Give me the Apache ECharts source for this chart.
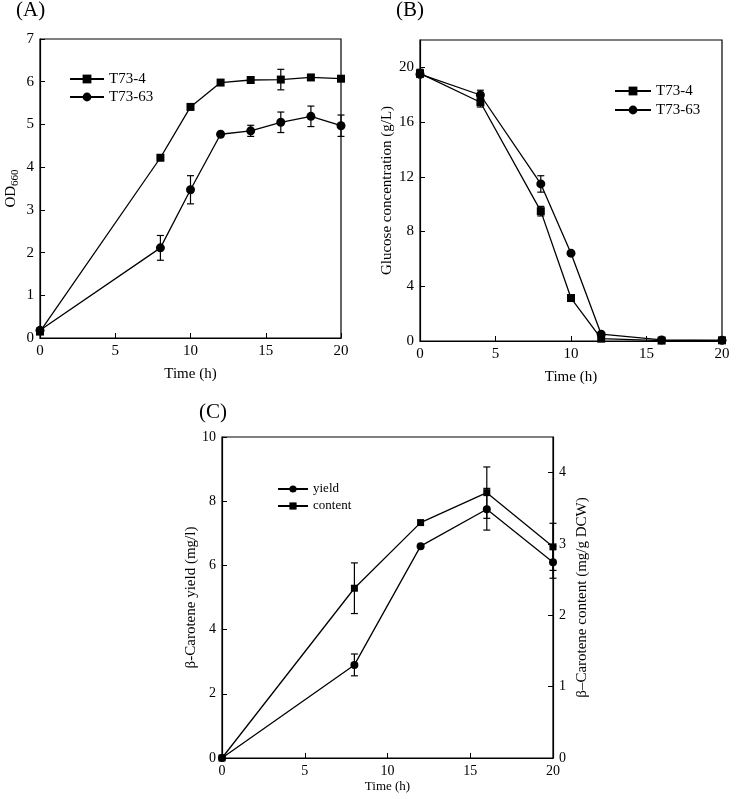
<!DOCTYPE html>
<html>
<head>
<meta charset="utf-8">
<script src="https://cdn.jsdelivr.net/npm/echarts@6/dist/echarts.min.js"></script>
<style>
html,body{margin:0;padding:0;background:#fff;}
#chart{width:740px;height:799px;}
</style>
</head>
<body>
<div id="chart"></div>
<script>
// Panel A: OD660
var timeA = [0, 8, 10, 12, 14, 16, 18, 20];
var odT734 = [0.15, 4.22, 5.41, 5.98, 6.04, 6.05, 6.10, 6.07];
var odT734Err = [0, 0, 0, 0, 0, 0.24, 0, 0];
var odT7363 = [0.18, 2.11, 3.47, 4.77, 4.85, 5.05, 5.19, 4.97];
var odT7363Err = [0, 0.29, 0.33, 0, 0.13, 0.24, 0.24, 0.25];
// Panel B: glucose
var timeB = [0, 4, 8, 10, 12, 16, 20];
var gluT734 = [19.56, 17.45, 9.49, 3.14, 0.17, 0.03, 0.05];
var gluT734Err = [0.3, 0.35, 0.35, 0, 0, 0, 0];
var gluT7363 = [19.5, 17.98, 11.48, 6.42, 0.5, 0.08, 0.05];
var gluT7363Err = [0.2, 0.35, 0.6, 0, 0, 0, 0];
// Panel C: beta-carotene
var timeC = [0, 8, 12, 16, 20];
var yieldC = [0, 2.90, 6.60, 7.75, 6.10];
var yieldErr = [0, 0.34, 0, 0.65, 0.5];
var contentC = [0, 2.38, 3.30, 3.72, 2.96];
var contentErr = [0, 0.355, 0, 0.36, 0.33];
// tick settings
var ticksA = {min: 0, max: 7, interval: 1};
var ticksB = {min: 0, max: 22, interval: 4};
var ticksCL = {min: 0, max: 10, interval: 2};
var ticksCR = {min: 0, max: 4.5, interval: 1};
var ticksX = {min: 0, max: 20, interval: 5};

var FONT = 'Liberation Serif';
var BLACK = '#000';

function pairs(t, v) { return t.map(function (x, i) { return [x, v[i]]; }); }
function errData(t, v, e) {
  var out = [];
  t.forEach(function (x, i) { if (e[i] > 0) out.push([x, v[i] - e[i], v[i] + e[i]]); });
  return out;
}
function errRender(params, api) {
  var x = api.value(0);
  var lo = api.coord([x, api.value(1)]);
  var hi = api.coord([x, api.value(2)]);
  var w = 3.5;
  var st = {stroke: BLACK, lineWidth: 1.2};
  return {
    type: 'group',
    children: [
      {type: 'line', shape: {x1: lo[0], y1: lo[1], x2: hi[0], y2: hi[1]}, style: st},
      {type: 'line', shape: {x1: lo[0] - w, y1: lo[1], x2: lo[0] + w, y2: lo[1]}, style: st},
      {type: 'line', shape: {x1: hi[0] - w, y1: hi[1], x2: hi[0] + w, y2: hi[1]}, style: st}
    ]
  };
}
function xAxis(gi, fs, lfs, gap) {
  return {
    type: 'value', gridIndex: gi, min: ticksX.min, max: ticksX.max, interval: ticksX.interval,
    name: 'Time (h)', nameLocation: 'middle', nameGap: gap,
    nameTextStyle: {fontFamily: FONT, fontSize: fs, color: BLACK},
    axisLine: {show: true, lineStyle: {color: BLACK, width: 1.2}},
    axisTick: {show: true, inside: true, length: 5, lineStyle: {color: BLACK}},
    axisLabel: {fontFamily: FONT, fontSize: lfs, color: BLACK, margin: 6},
    splitLine: {show: false}
  };
}
function yAxis(gi, t, name, fs, lfs, gap, pos, hideMax) {
  return {
    type: 'value', gridIndex: gi, min: t.min, max: t.max, interval: t.interval,
    position: pos || 'left',
    name: name, nameLocation: 'middle', nameGap: gap, nameRotate: 90,
    nameTextStyle: {fontFamily: FONT, fontSize: fs, color: BLACK},
    axisLine: {show: true, lineStyle: {color: BLACK, width: 1.2}},
    axisTick: {show: true, inside: true, length: 5, lineStyle: {color: BLACK}},
    axisLabel: {fontFamily: FONT, fontSize: lfs, color: BLACK, margin: 6, showMaxLabel: !hideMax},
    splitLine: {show: false}
  };
}
function lineSeries(name, xi, yi, data, sym, size) {
  return {
    type: 'line', name: name, xAxisIndex: xi, yAxisIndex: yi, data: data,
    symbol: sym, symbolSize: size, showAllSymbol: true,
    lineStyle: {color: BLACK, width: 1.3}, itemStyle: {color: BLACK},
    animation: false, z: 3
  };
}
function errSeries(xi, yi, data) {
  return {
    type: 'custom', xAxisIndex: xi, yAxisIndex: yi, data: data,
    renderItem: errRender, encode: {x: 0, y: [1, 2]}, z: 2, animation: false, silent: true
  };
}

var chart = echarts.init(document.getElementById('chart'), null, {renderer: 'canvas'});
var yA = yAxis(0, ticksA, '{a|OD}{b|660}', 15, 15, 19, 'left', false);
yA.nameTextStyle.rich = {
  a: {fontFamily: FONT, fontSize: 15, color: BLACK, lineHeight: 20, verticalAlign: 'middle'},
  b: {fontFamily: FONT, fontSize: 11, color: BLACK, lineHeight: 20, verticalAlign: 'bottom', padding: [4, 0, 0, 0]}
};
var titleStyle = {fontFamily: FONT, fontSize: 21, fontWeight: 'normal', color: BLACK};

var option = {
  backgroundColor: '#fff',
  animation: false,
  textStyle: {fontFamily: FONT, color: BLACK},
  title: [
    {text: '(A)', left: 16, top: 0, padding: 0, textStyle: titleStyle},
    {text: '(B)', left: 396, top: 0, padding: 0, textStyle: titleStyle},
    {text: '(C)', left: 199, top: 402, padding: 0, textStyle: titleStyle}
  ],
  grid: [
    {left: 40, top: 39, width: 301, height: 299, show: true, borderColor: BLACK, borderWidth: 1.2, backgroundColor: 'transparent'},
    {left: 420, top: 40, width: 302, height: 301, show: true, borderColor: BLACK, borderWidth: 1.2, backgroundColor: 'transparent'},
    {left: 222, top: 437, width: 331, height: 321, show: true, borderColor: BLACK, borderWidth: 1.2, backgroundColor: 'transparent'}
  ],
  xAxis: [xAxis(0, 15, 15, 29), xAxis(1, 15, 15, 29), xAxis(2, 13, 14, 22)],
  yAxis: [
    yA,
    yAxis(1, ticksB, 'Glucose concentration (g/L)', 15, 15, 25, 'left', true),
    yAxis(2, ticksCL, 'β-Carotene yield (mg/l)', 15, 14, 11, 'left', false),
    yAxis(2, ticksCR, 'β–Carotene content (mg/g DCW)', 15, 14, 22, 'right', true)
  ],
  legend: [
    {data: ['T73-4', 'T73-63'], orient: 'vertical', left: 69, top: 71, padding: 0, itemWidth: 34, itemHeight: 11, itemGap: 2,
     textStyle: {fontFamily: FONT, fontSize: 15, color: BLACK, lineHeight: 16}, selectedMode: false},
    {data: ['T73-4 ', 'T73-63 '], orient: 'vertical', left: 614, top: 83, padding: 0, itemWidth: 36, itemHeight: 11, itemGap: 3,
     formatter: function (n) { return n.trim(); },
     textStyle: {fontFamily: FONT, fontSize: 15, color: BLACK, lineHeight: 16}, selectedMode: false},
    {data: ['yield', 'content'], orient: 'vertical', left: 277, top: 482, padding: 0, itemWidth: 30, itemHeight: 9, itemGap: 3,
     textStyle: {fontFamily: FONT, fontSize: 13, color: BLACK, lineHeight: 14}, selectedMode: false}
  ],
  series: [
    errSeries(0, 0, errData(timeA, odT734, odT734Err)),
    errSeries(0, 0, errData(timeA, odT7363, odT7363Err)),
    lineSeries('T73-4', 0, 0, pairs(timeA, odT734), 'rect', 8),
    lineSeries('T73-63', 0, 0, pairs(timeA, odT7363), 'circle', 9),
    errSeries(1, 1, errData(timeB, gluT734, gluT734Err)),
    errSeries(1, 1, errData(timeB, gluT7363, gluT7363Err)),
    lineSeries('T73-4 ', 1, 1, pairs(timeB, gluT734), 'rect', 8),
    lineSeries('T73-63 ', 1, 1, pairs(timeB, gluT7363), 'circle', 9),
    errSeries(2, 2, errData(timeC, yieldC, yieldErr)),
    errSeries(2, 3, errData(timeC, contentC, contentErr)),
    lineSeries('yield', 2, 2, pairs(timeC, yieldC), 'circle', 8),
    lineSeries('content', 2, 3, pairs(timeC, contentC), 'rect', 7)
  ]
};
chart.setOption(option);
</script>
</body>
</html>
